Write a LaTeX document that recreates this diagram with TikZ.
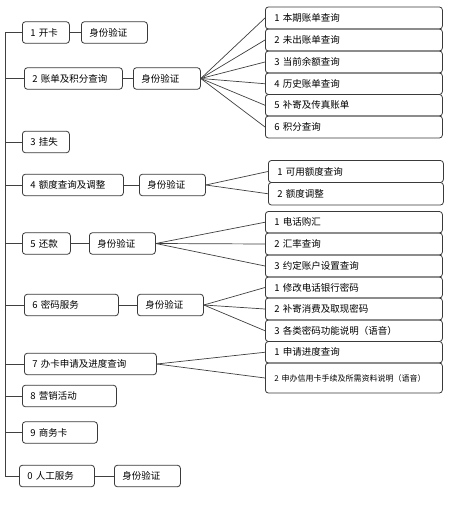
\documentclass[tikz,border=0pt]{standalone}
\usepackage{fontspec}
\setmainfont{Noto Sans CJK SC}
\definecolor{boxc}{HTML}{3A3A3A}
\definecolor{linec}{HTML}{404040}
\begin{document}
\begin{tikzpicture}[x=1pt,y=-1pt,
  bx/.style={draw=boxc, line width=0.8pt, rounded corners=3pt, inner xsep=8pt, inner ysep=0pt,
    text width=#1, align=left, anchor=west, minimum height=21.5pt, font=\fontsize{9.5}{10}\selectfont},
  rb/.style={draw=boxc, line width=0.8pt, rounded corners=3pt, inner xsep=9pt, inner ysep=0pt,
    text width=159pt, align=left, anchor=west, font=\fontsize{9.5}{10}\selectfont},
  ln/.style={draw=linec, line width=0.7pt}]
\useasboundingbox (0,0) rectangle (451,510);
\fill[white] (0,0) rectangle (451,510);

% left column
\node[bx=31pt] (n1) at (22,32.5) {1 开卡};
\node[bx=50pt] (v1) at (81,32.5) {身份验证};
\node[bx=82pt] (n2) at (24,78.5) {2 账单及积分查询};
\node[bx=51pt] (v2) at (133,78.5) {身份验证};
\node[bx=31pt] (n3) at (22,142) {3 挂失};
\node[bx=85pt] (n4) at (22,185) {4 额度查询及调整};
\node[bx=50pt] (v4) at (139,185) {身份验证};
\node[bx=32pt] (n5) at (22,243.5) {5 还款};
\node[bx=50pt] (v5) at (89,243.5) {身份验证};
\node[bx=78pt] (n6) at (24,305) {6 密码服务};
\node[bx=50pt] (v6) at (137,305) {身份验证};
\node[bx=116pt] (n7) at (24,364) {7 办卡申请及进度查询};
\node[bx=78pt] (n8) at (22,396) {8 营销活动};
\node[bx=59pt] (n9) at (22,432.5) {9 商务卡};
\node[bx=59pt] (n0) at (19,476) {0 人工服务};
\node[bx=50pt] (v0) at (114,476) {身份验证};

% right column, group 2
\node[rb, minimum height=22pt] (a1) at (265,18) {1 本期账单查询};
\node[rb, minimum height=22pt] (a2) at (265,40) {2 未出账单查询};
\node[rb, minimum height=22pt] (a3) at (265,62) {3 当前余额查询};
\node[rb, minimum height=21.5pt] (a4) at (265,83.75) {4 历史账单查询};
\node[rb, minimum height=21.5pt] (a5) at (265,105.25) {5 补寄及传真账单};
\node[rb, minimum height=22pt] (a6) at (265,127) {6 积分查询};
% group 4
\node[rb, text width=157pt, minimum height=22pt] (b1) at (268,171.5) {1 可用额度查询};
\node[rb, text width=157pt, minimum height=22.5pt] (b2) at (268,193.75) {2 额度调整};
% group 5
\node[rb, minimum height=21.5pt] (c1) at (265,222.25) {1 电话购汇};
\node[rb, minimum height=22pt] (c2) at (265,244) {2 汇率查询};
\node[rb, minimum height=22pt] (c3) at (265,266) {3 约定账户设置查询};
% group 6
\node[rb, minimum height=21pt] (d1) at (265,287.5) {1 修改电话银行密码};
\node[rb, minimum height=22pt] (d2) at (265,309) {2 补寄消费及取现密码};
\node[rb, minimum height=21.5pt] (d3) at (265,330.75) {3 各类密码功能说明（语音）};
% group 7
\node[rb, minimum height=21.5pt] (e1) at (265,352.25) {1 申请进度查询};
\node[rb, minimum height=30pt, font=\fontsize{8}{9}\selectfont] (e2) at (265,378) {2 申办信用卡手续及所需资料说明（语音）};

% spine
\coordinate (sp) at (5.5,0);
\draw[ln] (n1.west -| sp) -- (n0.west -| sp) -- (n0.west);
\foreach \n in {n1,n2,n3,n4,n5,n6,n7,n8,n9} \draw[ln] (\n.west -| sp) -- (\n.west);

% horizontal links
\draw[ln] (n1) -- (v1);
\draw[ln] (n2) -- (v2);
\draw[ln] (n4) -- (v4);
\draw[ln] (n5) -- (v5);
\draw[ln] (n6) -- (v6);
\draw[ln] (n0) -- (v0);

% fans
\foreach \t in {a1,a2,a3,a4,a5,a6} \draw[ln] (v2.east) -- (\t.west);
\foreach \t in {b1,b2} \draw[ln] (v4.east) -- (\t.west);
\foreach \t in {c1,c2,c3} \draw[ln] (v5.east) -- (\t.west);
\foreach \t in {d1,d2,d3} \draw[ln] (v6.east) -- (\t.west);
\foreach \t in {e1,e2} \draw[ln] (n7.east) -- (\t.west);
\end{tikzpicture}
\end{document}
